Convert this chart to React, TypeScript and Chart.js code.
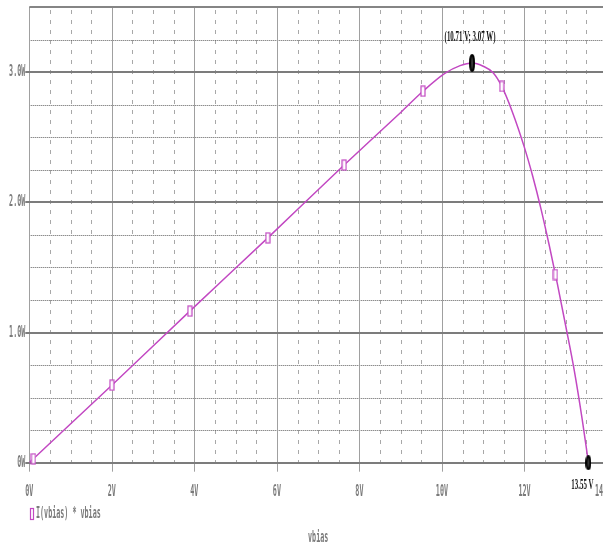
import React, { useEffect, useRef } from 'react';
import { Chart, registerables } from 'chart.js';

Chart.register(...registerables);

// ---- data ----
const voltage = [0, 0.1, 2.0, 3.89, 5.78, 7.63, 9.0, 9.54, 10.07, 10.44, 10.73, 11.0, 11.24, 11.45, 11.7, 12.0, 12.2, 12.4, 12.6, 12.8, 13.0, 13.2, 13.4, 13.55];
const power = [0, 0.03, 0.595, 1.164, 1.727, 2.286, 2.69, 2.853, 2.99, 3.05, 3.07, 3.045, 2.995, 2.89, 2.7, 2.42, 2.2, 1.95, 1.67, 1.37, 1.05, 0.72, 0.33, 0];

const markerVoltage = [0.1, 2.0, 3.89, 5.78, 7.63, 9.54, 11.45, 12.75];
const markerPower = [0.03, 0.595, 1.164, 1.727, 2.286, 2.853, 2.89, 1.445];

const cursorVoltage = [10.73, 13.55];
const cursorPower = [3.07, 0];
const cursorLabels = ['(10.71 V; 3.07 W)', '13.55 V'];

const xMajorTicks = [0, 2, 4, 6, 8, 10, 12, 14];
const xTickLabels = ['0V', '2V', '4V', '6V', '8V', '10V', '12V', '14V'];
const yMajorTicks = [0, 1, 2, 3];
const yTickLabels = ['0W', '1.0W', '2.0W', '3.0W'];
const xMinorStep = 0.5;
const yMinorStep = 0.25;
const xMin = 0, xMax = 14, yMin = 0, yMax = 3.5;

const legendLabel = 'I(vbias) * vbias';
const xTitle = 'vbias';

const TRACE = '#c248c2';
const MONO = 'bold 16px "DejaVu Sans Mono", monospace';
const SERIF = 'bold 15px "Liberation Serif", "DejaVu Serif", serif';

function makeRectMarker(w: number, h: number, color: string) {
  const c = document.createElement('canvas');
  c.width = w; c.height = h;
  const g = c.getContext('2d')!;
  g.fillStyle = '#ffffff';
  g.fillRect(1, 1, w - 2, h - 2);
  g.strokeStyle = color;
  g.lineWidth = 1.2;
  g.strokeRect(1, 1, w - 2, h - 2);
  return c;
}

function makeEllipse(w: number, h: number) {
  const c = document.createElement('canvas');
  c.width = w; c.height = h;
  const g = c.getContext('2d')!;
  g.beginPath();
  g.ellipse(w / 2, h / 2, w / 2 - 1, h / 2 - 1, 0, 0, Math.PI * 2);
  g.fillStyle = '#3a3a3a';
  g.fill();
  g.lineWidth = 2;
  g.strokeStyle = '#000';
  g.stroke();
  return c;
}

function squishText(ctx: CanvasRenderingContext2D, text: string, x: number, y: number, font: string, sx: number, align: CanvasTextAlign, color: string) {
  ctx.save();
  ctx.font = font;
  ctx.fillStyle = color;
  ctx.textBaseline = 'middle';
  ctx.textAlign = align;
  ctx.translate(x, y);
  ctx.scale(sx, 1);
  ctx.fillText(text, 0, 0);
  ctx.restore();
}

const gridPlugin = {
  id: 'ltspiceGrid',
  beforeDatasetsDraw(chart: any) {
    const ctx: CanvasRenderingContext2D = chart.ctx;
    const { left, right, top, bottom } = chart.chartArea;
    const xs = chart.scales.x;
    const ys = chart.scales.y;
    ctx.save();
    // vertical minor dashed
    ctx.lineWidth = 1;
    ctx.strokeStyle = '#a8a8a8';
    ctx.setLineDash([4, 6]);
    for (let v = xMin + xMinorStep; v < xMax; v += xMinorStep) {
      if (Math.abs(v / 2 - Math.round(v / 2)) < 1e-6) continue;
      const px = Math.round(xs.getPixelForValue(v)) + 0.5;
      ctx.beginPath(); ctx.moveTo(px, top + 3); ctx.lineTo(px, bottom); ctx.stroke();
    }
    // horizontal minor dotted
    ctx.strokeStyle = '#5e5e5e';
    ctx.setLineDash([1, 1]);
    for (let v = yMin + yMinorStep; v < yMax; v += yMinorStep) {
      if (Math.abs(v - Math.round(v)) < 1e-6) continue;
      const py = Math.round(ys.getPixelForValue(v)) + 0.5;
      ctx.beginPath(); ctx.moveTo(left, py); ctx.lineTo(right, py); ctx.stroke();
    }
    ctx.setLineDash([]);
    // vertical major
    ctx.strokeStyle = '#a0a0a0';
    ctx.lineWidth = 1;
    for (const v of xMajorTicks) {
      const px = Math.round(xs.getPixelForValue(v)) + 0.5;
      ctx.beginPath(); ctx.moveTo(px, top); ctx.lineTo(px, bottom + 9); ctx.stroke();
    }
    // horizontal major
    ctx.strokeStyle = '#7c7c7c';
    ctx.lineWidth = 2;
    for (const v of yMajorTicks) {
      const py = Math.round(ys.getPixelForValue(v));
      ctx.beginPath(); ctx.moveTo(left - 4, py); ctx.lineTo(right, py); ctx.stroke();
    }
    // top border
    ctx.strokeStyle = '#858585';
    const pt = Math.round(ys.getPixelForValue(yMax));
    ctx.beginPath(); ctx.moveTo(left, pt); ctx.lineTo(right, pt); ctx.stroke();
    ctx.restore();
  },
  afterDraw(chart: any) {
    const ctx: CanvasRenderingContext2D = chart.ctx;
    const { left, bottom } = chart.chartArea;
    const xs = chart.scales.x;
    const ys = chart.scales.y;
    const labelColor = '#7a7a7a';
    yMajorTicks.forEach((v, i) => {
      squishText(ctx, yTickLabels[i], left - 4, ys.getPixelForValue(v), MONO, 0.42, 'right', labelColor);
    });
    xMajorTicks.forEach((v, i) => {
      const px = Math.min(xs.getPixelForValue(v), 601);
      squishText(ctx, xTickLabels[i], px, bottom + 29, MONO, 0.42, 'center', labelColor);
    });
    // legend
    ctx.save();
    ctx.strokeStyle = TRACE;
    ctx.lineWidth = 1.2;
    ctx.strokeRect(30.5, 508.5, 3, 11);
    ctx.restore();
    squishText(ctx, legendLabel, 36, 514, MONO, 0.42, 'left', labelColor);
    // x title
    squishText(ctx, xTitle, xs.getPixelForValue((xMin + xMax) / 2), 538, MONO, 0.42, 'center', labelColor);
    // cursor labels
    const p0x = xs.getPixelForValue(cursorVoltage[0]);
    const p0y = ys.getPixelForValue(cursorPower[0]);
    squishText(ctx, cursorLabels[0], p0x - 2, p0y - 26, SERIF, 0.46, 'center', '#111');
    const p1x = xs.getPixelForValue(cursorVoltage[1]);
    const p1y = ys.getPixelForValue(cursorPower[1]);
    squishText(ctx, cursorLabels[1], p1x - 6, p1y + 22.5, SERIF, 0.46, 'center', '#111');
  },
};

export default function App() {
  const ref = useRef<HTMLCanvasElement | null>(null);
  useEffect(() => {
    if (!ref.current) return;
    const rectMarker = makeRectMarker(6, 12, TRACE);
    const peakMarker = makeEllipse(6, 18);
    const endMarker = makeEllipse(6, 15);
    const chart = new Chart(ref.current, {
      type: 'scatter',
      data: {
        datasets: [
          {
            label: legendLabel,
            data: voltage.map((v, i) => ({ x: v, y: power[i] })),
            showLine: true,
            borderColor: TRACE,
            borderWidth: 1.5,
            pointRadius: 0,
            cubicInterpolationMode: 'monotone',
            order: 3,
          } as any,
          {
            label: 'markers',
            data: markerVoltage.map((v, i) => ({ x: v, y: markerPower[i] })),
            showLine: false,
            pointStyle: rectMarker as any,
            pointRadius: 5,
            clip: false,
            order: 2,
          } as any,
          {
            label: 'cursors',
            data: cursorVoltage.map((v, i) => ({ x: v, y: cursorPower[i] })),
            showLine: false,
            pointStyle: [peakMarker, endMarker] as any,
            pointRadius: 6,
            clip: false,
            order: 1,
          } as any,
        ],
      },
      options: {
        responsive: false,
        animation: false,
        devicePixelRatio: 1,
        events: [],
        layout: { padding: { left: 29.3, right: 13, top: 6, bottom: 83.3 } },
        scales: {
          x: { type: 'linear', min: xMin, max: xMax, display: false },
          y: { type: 'linear', min: yMin, max: yMax, display: false },
        },
        plugins: { legend: { display: false }, tooltip: { enabled: false } },
      },
      plugins: [gridPlugin],
    });
    return () => chart.destroy();
  }, []);
  return (
    <div style={{ position: 'absolute', left: 0, top: 0, width: 603, height: 546, overflow: 'hidden', background: '#fff' }}>
      <canvas ref={ref} width={620} height={546} style={{ display: 'block', width: 620, height: 546 }} />
    </div>
  );
}
